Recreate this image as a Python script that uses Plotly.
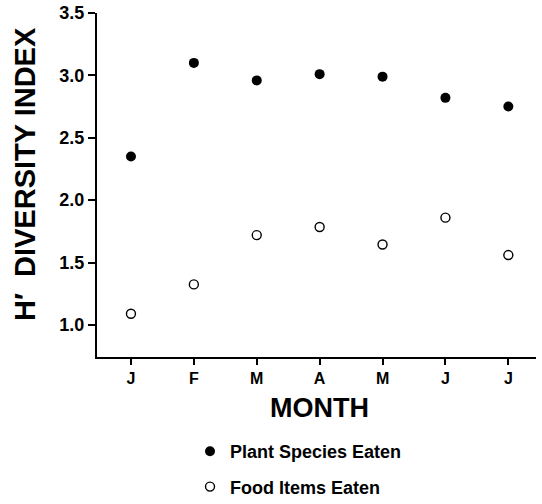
import plotly.graph_objects as go

months = ["J", "F", "M", "A", "M", "J", "J"]
plant_species = [2.35, 3.10, 2.96, 3.01, 2.99, 2.82, 2.75]
food_items = [1.09, 1.325, 1.72, 1.785, 1.645, 1.86, 1.56]
y_ticks = [1.0, 1.5, 2.0, 2.5, 3.0, 3.5]
y_tick_labels = ["1.0", "1.5", "2.0", "2.5", "3.0", "3.5"]

x_idx = list(range(len(months)))
FONT = "Liberation Sans"

fig = go.Figure()
fig.add_trace(go.Scatter(
    x=x_idx, y=plant_species, mode="markers", name="Plant Species Eaten",
    marker=dict(symbol="circle", size=10, color="black", line=dict(width=0)),
    legendgroup="a",
))
fig.add_trace(go.Scatter(
    x=x_idx, y=food_items, mode="markers", name="Food Items Eaten",
    marker=dict(symbol="circle-open", size=9, color="black", line=dict(width=1.4)),
    legendgroup="b",
))

fig.update_layout(
    width=542, height=504,
    margin=dict(l=97, r=6, t=13, b=147, autoexpand=False),
    paper_bgcolor="white", plot_bgcolor="white",
    font=dict(family=FONT, color="black"),
    showlegend=True,
    legend=dict(
        x=(190 - 97) / 439, y=(357 - 433) / 344, xanchor="left", yanchor="top",
        font=dict(family=FONT, size=18, weight="bold", color="black"),
        traceorder="grouped", tracegroupgap=9,
        bgcolor="rgba(0,0,0,0)",
    ),
    xaxis=dict(
        range=[-0.54, 6.44], tickmode="array", tickvals=x_idx, ticktext=months,
        showgrid=False, zeroline=False, showline=True, linecolor="black", linewidth=2,
        ticks="outside", ticklen=6, tickwidth=1.5, tickcolor="black",
        tickfont=dict(family=FONT, size=16, weight="bold"),
    ),
    yaxis=dict(
        range=[0.743, 3.5], tickmode="array", tickvals=y_ticks, ticktext=y_tick_labels,
        showgrid=False, zeroline=False, showline=True, linecolor="black", linewidth=2,
        ticks="outside", ticklen=7, tickwidth=1.5, tickcolor="black",
        tickfont=dict(family=FONT, size=18, weight="bold"),
    ),
    annotations=[
        dict(text="MONTH", xref="paper", yref="paper", x=(319 - 97) / 439, y=(357 - 408) / 344,
             xanchor="center", yanchor="middle", showarrow=False,
             font=dict(family=FONT, size=27, weight="bold", color="black")),
        dict(text="H′  DIVERSITY INDEX", xref="paper", yref="paper", x=(25 - 97) / 439,
             y=(357 - 174) / 344, xanchor="center", yanchor="middle", showarrow=False,
             textangle=-90, font=dict(family=FONT, size=29, weight="bold", color="black")),
    ],
)

fig.write_html("out.html")
